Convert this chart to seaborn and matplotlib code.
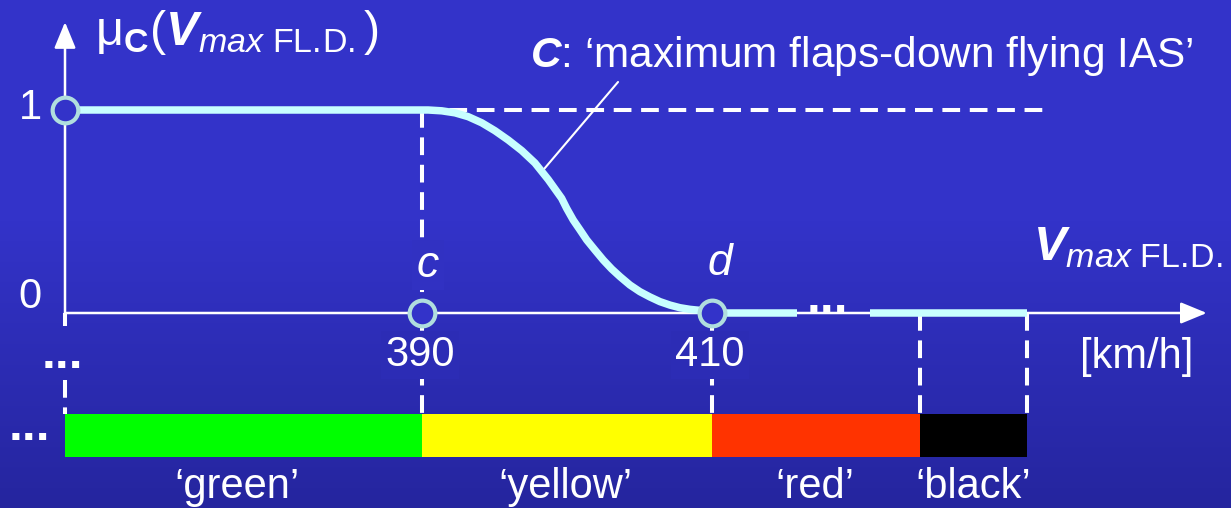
import numpy as np
import pandas as pd
import matplotlib
matplotlib.use("Agg")
import matplotlib.pyplot as plt
import seaborn as sns

# ---- data -----------------------------------------------------------------
# membership curve mu_C of the maximum flaps-down flying IAS [km/h]
curve_speed = [390.0, 390.43, 391.36, 392.28, 393.19, 394.12, 395.03, 395.95, 396.88,
               397.79, 398.71, 399.63, 399.98, 400.43, 400.90, 401.36, 401.93, 402.50,
               403.08, 403.66, 404.34, 405.03, 405.72, 406.41, 407.10, 407.79, 408.48,
               409.17, 410.0]
curve_mu = [1.0, 1.0, 0.996, 0.986, 0.967, 0.937, 0.898, 0.852, 0.800,
            0.739, 0.657, 0.565, 0.515, 0.458, 0.409, 0.360, 0.310, 0.261,
            0.217, 0.179, 0.138, 0.105, 0.079, 0.056, 0.039, 0.026, 0.018,
            0.013, 0.0]

axis_start = 365.38          # left end of the speed axis
speed_c = 390.0              # c
speed_d = 410.0              # d
zero_break_start = 415.84    # zero plateau interrupted by "..."
zero_break_end = 420.90
speed_end = 431.70
ref_line_end = 433.31        # dashed mu = 1 reference
axis_arrow_end = 444.12
mu_arrow_end = 1.433

tick_speeds = [390, 410]
tick_labels = ["390", "410"]

band_names = ["\u2018green\u2019", "\u2018yellow\u2019", "\u2018red\u2019", "\u2018black\u2019"]
band_edges = [365.38, 390.0, 410.0, 424.34, 431.70]
band_colors = ["#00FF00", "#FFFF00", "#FF3300", "#000000"]
band_label_x = [377.24, 399.86, 417.10, 428.0]

# ---- style ----------------------------------------------------------------
sns.set_style("white")
plt.rcParams["font.family"] = ["Liberation Sans", "DejaVu Sans"]
plt.rcParams["mathtext.fontset"] = "custom"
plt.rcParams["mathtext.rm"] = "Liberation Sans"
plt.rcParams["mathtext.it"] = "Liberation Sans:italic"
plt.rcParams["mathtext.bf"] = "Liberation Sans:bold:italic"
plt.rcParams["mathtext.sf"] = "Liberation Sans:bold"

CURVE = "#C8FFFF"
RING = "#B0DEDE"
WHITE = "white"
FS = 30

XLIM = (360.897, 445.793)
YLIM = (-0.9606, 1.5419)
H_PX = 508

TOP = np.array([51, 51, 201]) / 255
BOTTOM = np.array([37, 37, 158]) / 255
FADE_FROM = 220


def background_at(py):
    """Background colour at pixel row py (array or scalar)."""
    t = np.clip((np.asarray(py, dtype=float) - FADE_FROM) / (H_PX - FADE_FROM), 0, 1)
    t = t[..., None]
    return TOP * (1 - t) + BOTTOM * t


def background_at_y(y):
    py = (YLIM[1] - y) / (YLIM[1] - YLIM[0]) * H_PX
    return tuple(background_at(py))


fig = plt.figure(figsize=(12.31, 5.08), dpi=100)
ax = fig.add_axes([0, 0, 1, 1])
ax.set_xlim(*XLIM)
ax.set_ylim(*YLIM)
ax.set_axis_off()

# vertical background gradient
grad = background_at(np.arange(H_PX))[:, None, :]
ax.imshow(grad, extent=(XLIM[0], XLIM[1], YLIM[0], YLIM[1]), aspect="auto",
          origin="upper", zorder=0)

# colour bands below the axis
band_bottom, band_top = -0.708, -0.4975
for left, right, col in zip(band_edges[:-1], band_edges[1:], band_colors):
    ax.barh(band_bottom, right - left, left=left, height=band_top - band_bottom,
            align="edge", color=col, edgecolor="none", zorder=1)
for name, x in zip(band_names, band_label_x):
    ax.text(x, -0.911, name, ha="center", va="baseline", color=WHITE, fontsize=FS, zorder=3)

# dashed guides
dash = dict(color=WHITE, lw=2.9, dashes=(4.4, 2.4), zorder=2)
ax.plot([speed_c, ref_line_end], [1, 1], **dash)
ax.plot([speed_c, speed_c], [1, 0], **dash)
for x in band_edges[1:]:
    ax.plot([x, x], [0, band_top], **dash)
# the left guide is broken by the "..." mark
ax.plot([band_edges[0]] * 2, [0, -0.065], **dash)
ax.plot([band_edges[0]] * 2, [-0.33, band_top], **dash)

# axes with arrow heads
arrow = dict(arrowstyle="-|>,head_length=0.8,head_width=0.33", color=WHITE, lw=1.8,
             shrinkA=0, shrinkB=0, mutation_scale=20)
ax.annotate("", xy=(axis_arrow_end, 0), xytext=(axis_start, 0), arrowprops=arrow, zorder=4)
ax.annotate("", xy=(axis_start, mu_arrow_end), xytext=(axis_start, -0.01),
            arrowprops=arrow, zorder=4)

# membership function
lw_curve = 5.4
line_kw = dict(color=CURVE, lw=lw_curve, ax=ax, zorder=5, legend=False,
               solid_capstyle="butt", solid_joinstyle="round")
sns.lineplot(x=[axis_start, speed_c], y=[1.0, 1.0], **line_kw)
sns.lineplot(data=pd.DataFrame({"speed": curve_speed, "mu": curve_mu}), x="speed", y="mu",
             sort=False, estimator=None, **line_kw)
sns.lineplot(x=[speed_d, zero_break_start], y=[0.0, 0.0], **line_kw)
sns.lineplot(x=[zero_break_end, speed_end], y=[0.0, 0.0], **line_kw)
ax.text(416.55, 0.005, "...", ha="left", va="baseline", color=WHITE, fontsize=36,
        fontweight="bold", zorder=5)

# open circles at characteristic points
ax.plot([axis_start, speed_c, speed_d], [1, 0, 0], ls="none", marker="o", ms=18.5,
        mfc=TOP, mec=RING, mew=3.0, zorder=6)

# leader line and curve name
ax.plot([398.26, 403.52], [0.696, 1.138], color=WHITE, lw=1.5, zorder=4)
ax.text(397.45, 1.212, "$\\mathbf{C}$: \u2018maximum flaps-down flying IAS\u2019",
        ha="left", va="baseline", color=WHITE, fontsize=30.5, zorder=4)

# axis titles
ax.text(367.45, 1.320,
        r"$\mathrm{\mu}_{\mathsf{C}}(\mathbf{V}_{\mathit{max}\ \mathrm{FL.\!D.}})$",
        ha="left", va="baseline", color=WHITE, fontsize=35, zorder=4)
ax.text(432.14, 0.261, r"$\mathbf{V}_{\mathit{max}\ \mathrm{FL.\!D.}}$",
        ha="left", va="baseline", color=WHITE, fontsize=35, zorder=4)
ax.text(439.31, -0.271, "[km/h]", ha="center", va="baseline", color=WHITE, fontsize=FS,
        zorder=4)

# mu ticks
ax.text(362.97, 1.010, "1", ha="center", va="center", color=WHITE, fontsize=FS, zorder=4)
ax.text(362.97, 0.079, "0", ha="center", va="center", color=WHITE, fontsize=FS, zorder=4)


def box_at(y, pad=0.1):
    return dict(boxstyle=f"square,pad={pad}", fc=background_at_y(y), ec="none")


# speed ticks and point names (boxed so the guides break around them)
for x, lab in zip(tick_speeds, tick_labels):
    ax.text(x - 0.14, -0.207, lab, ha="center", va="center", color=WHITE, fontsize=FS,
            bbox=box_at(-0.207), zorder=3)
ax.text(390.41, 0.236, "c", ha="center", va="center", color=WHITE, fontsize=32,
        style="italic", bbox=box_at(0.236), zorder=3)
ax.text(410.55, 0.246, "d", ha="center", va="center", color=WHITE, fontsize=32,
        style="italic", zorder=3)

# continuation marks
ax.text(363.75, -0.271, "...", ha="left", va="baseline", color=WHITE, fontsize=36,
        fontweight="bold", zorder=3)
ax.text(361.5, -0.626, "...", ha="left", va="baseline", color=WHITE, fontsize=36,
        fontweight="bold", zorder=3)

fig.savefig("out.png", dpi=100, facecolor=tuple(TOP))
